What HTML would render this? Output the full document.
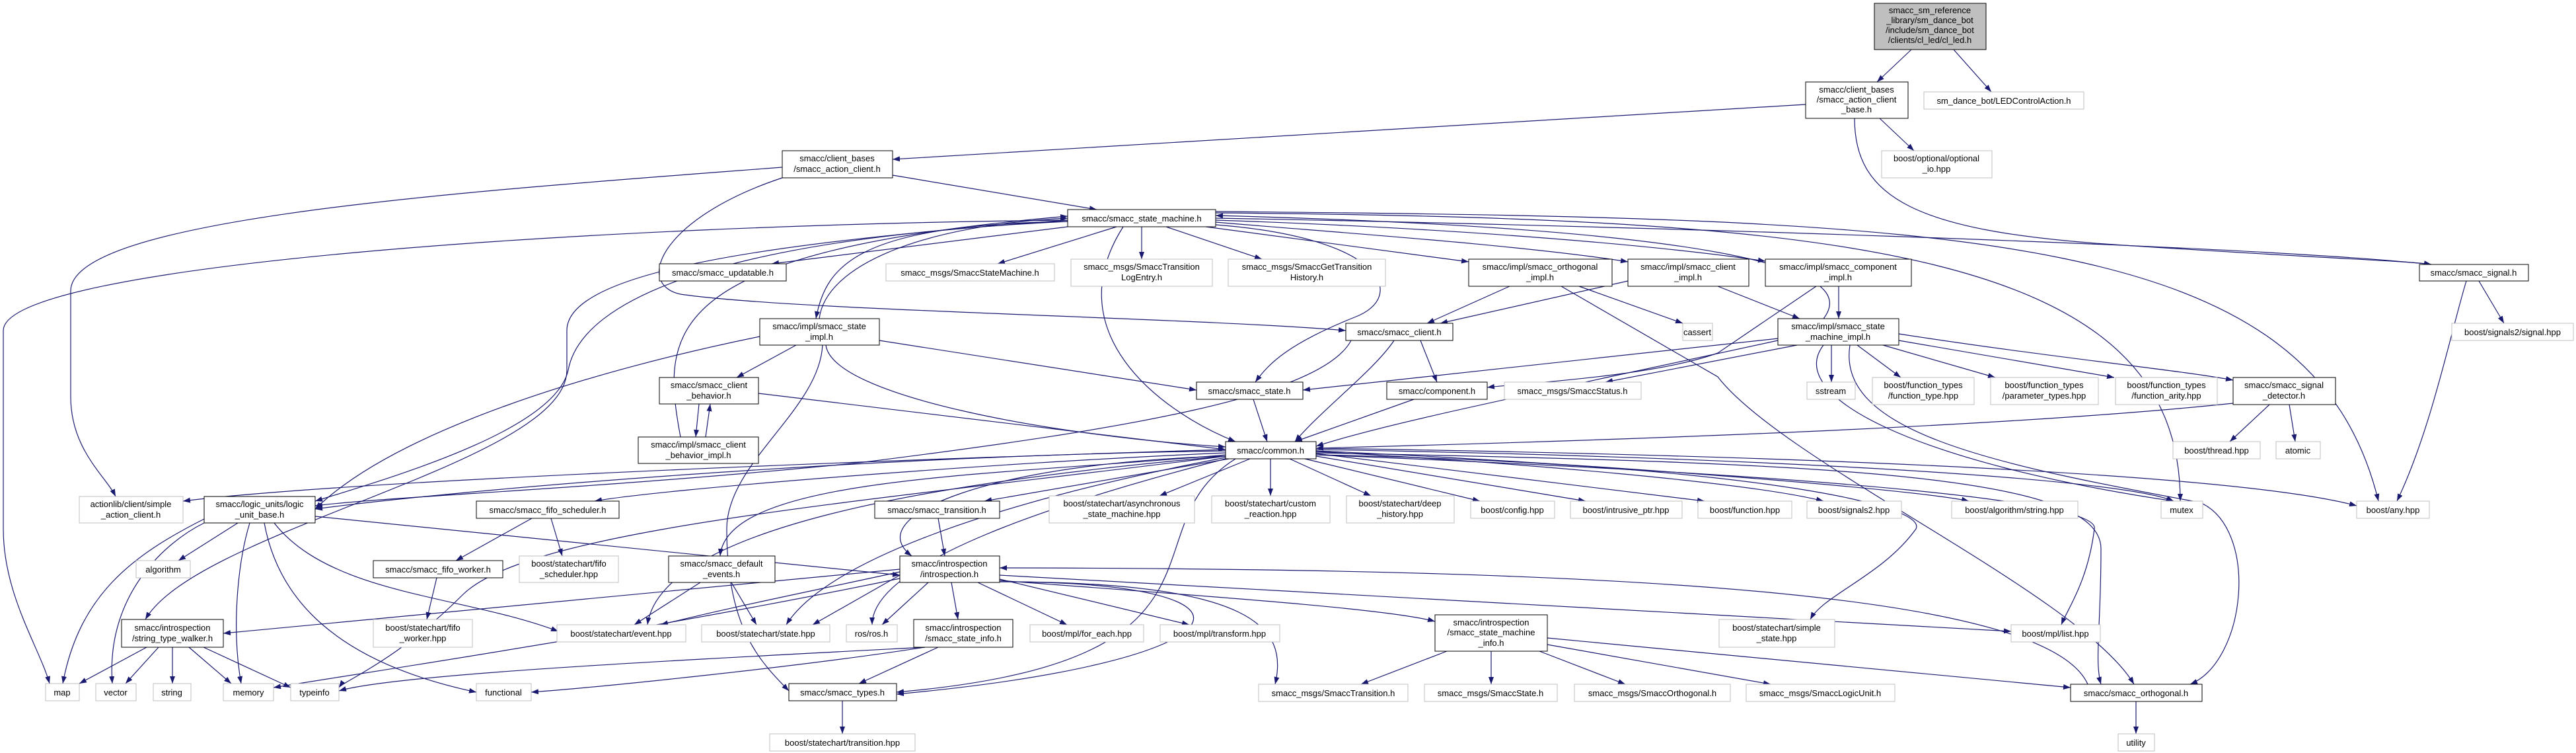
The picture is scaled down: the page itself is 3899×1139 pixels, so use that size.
<!DOCTYPE html>
<html><head><meta charset="utf-8"><style>
html,body{margin:0;padding:0;background:#fff;}
svg{display:block;}
text{font-family:"Liberation Sans",sans-serif;font-size:13px;fill:#000;}
.n{fill:#fff;stroke:#000;stroke-width:1;}
.g{fill:#fff;stroke:#bfbfbf;stroke-width:1;}
.e{fill:none;stroke:#191970;stroke-width:1.2;}
</style></head><body>
<svg width="3899" height="1139" viewBox="0 0 3899 1139" xmlns="http://www.w3.org/2000/svg">
<defs><marker id="a" markerUnits="userSpaceOnUse" markerWidth="11" markerHeight="8" viewBox="0 0 11 8" refX="11" refY="4" orient="auto"><path d="M0,0 L11,4 L0,8 z" fill="#191970"/></marker></defs>
<g marker-end="url(#a)">
<path class="e" d="M2893,75 L2841,124"/>
<path class="e" d="M2957,75 L3014,139"/>
<path class="e" d="M2845,179 L2897,228"/>
<path class="e" d="M2733,158 L1351,241"/>
<path class="e" d="M2807,179 C2807,300 2900,350 3200,370 S3650,395 3680,400"/>
<path class="e" d="M1351,265 L1660,317"/>
<path class="e" d="M1184,253 C700,290 107,330 107,440 L107,600 C107,680 160,720 175,751"/>
<path class="e" d="M1184,269 C1000,330 960,430 1030,445 C1200,470 1800,480 2037,500"/>
<path class="e" d="M1690,343 L1510,399"/>
<path class="e" d="M1728,343 L1728,392"/>
<path class="e" d="M1765,343 L1910,392"/>
<path class="e" d="M1825,343 L2223,396"/>
<path class="e" d="M1840,336 C2000,350 2300,370 2464,396"/>
<path class="e" d="M1840,333 C2200,345 2500,370 2672,395"/>
<path class="e" d="M1840,330 C2400,340 3400,370 3680,400"/>
<path class="e" d="M1616,343 L1168,399"/>
<path class="e" d="M1616,335 C1300,340 1250,400 1235,482"/>
<path class="e" d="M1616,335 C1100,360 880,450 860,560 C840,650 600,720 477,758"/>
<path class="e" d="M1616,333 C900,340 5,400 5,500 L5,800 C5,900 60,980 75,1034"/>
<path class="e" d="M1700,343 C1600,500 1750,620 1870,668"/>
<path class="e" d="M1840,340 C2100,360 2130,450 2050,480 C1950,520 1920,550 1900,578"/>
<path class="e" d="M1840,320 C3000,330 3500,350 3600,758"/>
<path class="e" d="M1840,322 C2800,330 3300,380 3300,758"/>
<path class="e" d="M1240,482 C1250,400 1400,340 1616,330"/>
<path class="e" d="M1030,661 C1000,500 1000,380 1616,327"/>
<path class="e" d="M2760,482 C2800,430 2750,350 1840,326"/>
<path class="e" d="M1205,522 L1115,571"/>
<path class="e" d="M1331,515 L1811,590"/>
<path class="e" d="M1150,509 C900,560 600,650 477,770"/>
<path class="e" d="M1616,333 C1100,370 858,420 858,500 L858,560 C858,700 300,800 220,937"/>
<path class="e" d="M1250,522 C1260,600 1600,660 1855,676"/>
<path class="e" d="M1245,522 C1240,620 1100,700 1100,800 C1100,950 1150,1000 1194,1045"/>
<path class="e" d="M1058,611 L1053,661"/>
<path class="e" d="M1148,595 L1855,680"/>
<path class="e" d="M1068,661 L1075,611"/>
<path class="e" d="M2150,515 L2175,578"/>
<path class="e" d="M2110,515 C2080,560 2000,620 1960,668"/>
<path class="e" d="M2045,515 C2000,600 1700,650 1300,700 C900,740 600,750 477,765"/>
<path class="e" d="M2285,433 L2160,489"/>
<path class="e" d="M2390,433 L2547,489"/>
<path class="e" d="M2363,433 L2600,570 C2700,700 3150,900 3230,1035"/>
<path class="e" d="M2464,425 L2180,489"/>
<path class="e" d="M2600,433 L2724,482"/>
<path class="e" d="M2783,433 L2783,482"/>
<path class="e" d="M2749,433 L2600,534 C2500,570 2300,580 2251,586"/>
<path class="e" d="M2691,512 L1972,590"/>
<path class="e" d="M2720,522 L2430,578"/>
<path class="e" d="M2772,522 L2772,578"/>
<path class="e" d="M2811,522 L2877,571"/>
<path class="e" d="M2850,522 L3020,571"/>
<path class="e" d="M2874,515 L3200,571"/>
<path class="e" d="M2874,505 C3100,540 3300,560 3380,575"/>
<path class="e" d="M2691,515 C2300,600 2100,640 1992,675"/>
<path class="e" d="M2800,522 C2780,650 3000,700 3330,760 C3420,800 3400,1000 3315,1035"/>
<path class="e" d="M2760,522 C2700,600 2900,700 3290,758"/>
<path class="e" d="M3435,612 L3375,668"/>
<path class="e" d="M3465,612 L3474,668"/>
<path class="e" d="M3380,610 C3000,650 2300,670 1992,678"/>
<path class="e" d="M3752,425 L3790,489"/>
<path class="e" d="M3733,425 C3710,500 3680,650 3628,758"/>
<path class="e" d="M1892,694 L1755,750"/>
<path class="e" d="M1923,694 L1923,750"/>
<path class="e" d="M1952,694 L2075,750"/>
<path class="e" d="M1975,694 L2240,758"/>
<path class="e" d="M1992,690 L2400,758"/>
<path class="e" d="M1992,686 L2580,758"/>
<path class="e" d="M1992,683 C2300,700 2650,730 2760,758"/>
<path class="e" d="M1992,682 C2400,700 2900,740 2980,758"/>
<path class="e" d="M1992,680 C2600,690 3200,720 3290,758"/>
<path class="e" d="M1992,678 C2800,690 3400,720 3567,765"/>
<path class="e" d="M1860,694 L1490,758"/>
<path class="e" d="M1855,690 C1500,700 1300,780 1380,841"/>
<path class="e" d="M1855,685 C1500,700 1000,740 900,758"/>
<path class="e" d="M1855,688 C1500,720 1100,720 1090,841"/>
<path class="e" d="M1855,690 C1400,730 1000,800 980,945"/>
<path class="e" d="M1855,692 C1500,760 1250,850 1190,945"/>
<path class="e" d="M1855,694 C1600,760 1320,850 1320,945"/>
<path class="e" d="M1870,694 C1700,800 1900,1000 1357,1047"/>
<path class="e" d="M1855,682 C1300,690 700,740 477,770"/>
<path class="e" d="M1855,680 C1200,700 500,730 277,758"/>
<path class="e" d="M1855,690 C1300,760 800,800 700,900 C600,1000 520,1030 513,1040"/>
<path class="e" d="M1400,979 C1200,1010 900,1040 804,1047"/>
<path class="e" d="M1992,688 C2600,700 2920,760 2900,800 C2850,870 2760,900 2740,937"/>
<path class="e" d="M1992,688 C2800,720 3180,760 3170,800 C3160,880 3130,920 3120,945"/>
<path class="e" d="M1992,685 C2800,700 3180,720 3180,830 C3180,950 3170,1000 3180,1035"/>
<path class="e" d="M1405,881 L1335,945"/>
<path class="e" d="M1440,881 L1450,937"/>
<path class="e" d="M1480,881 L1615,945"/>
<path class="e" d="M1513,876 L1800,945"/>
<path class="e" d="M1513,878 C1800,900 2100,920 2172,940"/>
<path class="e" d="M1513,870 L3044,955"/>
<path class="e" d="M1362,870 L1230,945"/>
<path class="e" d="M1362,865 C1200,900 1100,920 1000,945"/>
<path class="e" d="M1513,880 C1900,880 1950,950 1930,1035"/>
<path class="e" d="M1513,880 C1950,880 1900,1000 1357,1050"/>
<path class="e" d="M1362,861 L338,958"/>
<path class="e" d="M1362,875 C1000,950 600,1010 414,1040"/>
<path class="e" d="M3160,1035 C3100,900 2500,860 1513,859"/>
<path class="e" d="M2190,985 L2060,1035"/>
<path class="e" d="M2257,985 L2257,1035"/>
<path class="e" d="M2330,985 L2460,1035"/>
<path class="e" d="M2342,975 L2680,1035"/>
<path class="e" d="M2342,965 L3134,1040"/>
<path class="e" d="M1420,979 L1300,1034"/>
<path class="e" d="M1400,979 C1000,1000 600,1020 513,1045"/>
<path class="e" d="M1420,784 L1430,841"/>
<path class="e" d="M360,791 L270,848"/>
<path class="e" d="M309,785 C200,840 120,900 95,1034"/>
<path class="e" d="M309,791 C250,820 160,900 170,1034"/>
<path class="e" d="M378,791 C360,850 350,950 365,1034"/>
<path class="e" d="M400,791 C420,900 500,1000 721,1047"/>
<path class="e" d="M415,791 C500,900 700,900 845,955"/>
<path class="e" d="M477,781 L1362,870"/>
<path class="e" d="M222,979 L120,1034"/>
<path class="e" d="M240,979 L190,1034"/>
<path class="e" d="M261,979 L261,1034"/>
<path class="e" d="M286,979 L350,1034"/>
<path class="e" d="M308,979 L440,1040"/>
<path class="e" d="M805,784 L690,848"/>
<path class="e" d="M834,784 L851,841"/>
<path class="e" d="M661,874 L646,937"/>
<path class="e" d="M1060,881 L960,945"/>
<path class="e" d="M1107,881 L1145,945"/>
<path class="e" d="M1275,1060 L1275,1110"/>
<path class="e" d="M3233,1061 L3233,1110"/>
<path class="e" d="M1897,604 L1918,668"/>
<path class="e" d="M2140,604 L1960,668"/>
</g>
<g text-anchor="middle">
<rect x="2837" y="5" width="169" height="70" fill="#bfbfbf" stroke="#000"/>
<text x="2921" y="20">smacc_sm_reference</text><text x="2921" y="35">_library/sm_dance_bot</text><text x="2921" y="50">/include/sm_dance_bot</text><text x="2921" y="65">/clients/cl_led/cl_led.h</text>
<rect class="n" x="2733" y="124" width="155" height="55"/><text x="2810" y="140">smacc/client_bases</text><text x="2810" y="155">/smacc_action_client</text><text x="2810" y="170">_base.h</text>
<rect class="g" x="2912" y="139" width="242" height="26"/><text x="3033" y="157">sm_dance_bot/LEDControlAction.h</text>
<rect class="g" x="2848" y="228" width="167" height="41"/><text x="2931" y="244">boost/optional/optional</text><text x="2931" y="260">_io.hpp</text>
<rect class="n" x="1184" y="228" width="167" height="41"/><text x="1267" y="244">smacc/client_bases</text><text x="1267" y="260">/smacc_action_client.h</text>
<rect class="n" x="1616" y="317" width="224" height="26"/><text x="1728" y="335">smacc/smacc_state_machine.h</text>
<rect class="n" x="3662" y="400" width="165" height="25"/><text x="3744" y="417">smacc/smacc_signal.h</text>
<rect class="g" x="1341" y="399" width="255" height="26"/><text x="1468" y="417">smacc_msgs/SmaccStateMachine.h</text>
<rect class="g" x="1621" y="392" width="214" height="41"/><text x="1728" y="408">smacc_msgs/SmaccTransition</text><text x="1728" y="424">LogEntry.h</text>
<rect class="g" x="1859" y="392" width="238" height="41"/><text x="1978" y="408">smacc_msgs/SmaccGetTransition</text><text x="1978" y="424">History.h</text>
<rect class="n" x="2223" y="392" width="217" height="41"/><text x="2331" y="408">smacc/impl/smacc_orthogonal</text><text x="2331" y="424">_impl.h</text>
<rect class="n" x="2464" y="392" width="183" height="41"/><text x="2555" y="408">smacc/impl/smacc_client</text><text x="2555" y="424">_impl.h</text>
<rect class="n" x="2672" y="392" width="221" height="41"/><text x="2782" y="408">smacc/impl/smacc_component</text><text x="2782" y="424">_impl.h</text>
<rect class="n" x="2691" y="482" width="183" height="40"/><text x="2782" y="498">smacc/impl/smacc_state</text><text x="2782" y="514">_machine_impl.h</text>
<rect class="g" x="3711" y="489" width="184" height="26"/><text x="3803" y="507">boost/signals2/signal.hpp</text>
<rect class="n" x="998" y="399" width="192" height="26"/><text x="1094" y="417">smacc/smacc_updatable.h</text>
<rect class="n" x="1150" y="482" width="181" height="40"/><text x="1240" y="498">smacc/impl/smacc_state</text><text x="1240" y="514">_impl.h</text>
<rect class="n" x="2037" y="489" width="162" height="26"/><text x="2118" y="507">smacc/smacc_client.h</text>
<rect class="g" x="2547" y="489" width="45" height="26"/><text x="2569" y="507">cassert</text>
<rect class="n" x="998" y="571" width="150" height="40"/><text x="1073" y="587">smacc/smacc_client</text><text x="1073" y="603">_behavior.h</text>
<rect class="n" x="966" y="661" width="182" height="40"/><text x="1057" y="677">smacc/impl/smacc_client</text><text x="1057" y="693">_behavior_impl.h</text>
<rect class="n" x="1811" y="578" width="161" height="26"/><text x="1891" y="596">smacc/smacc_state.h</text>
<rect class="n" x="2099" y="578" width="152" height="26"/><text x="2175" y="596">smacc/component.h</text>
<rect class="g" x="2277" y="578" width="207" height="26"/><text x="2380" y="596">smacc_msgs/SmaccStatus.h</text>
<rect class="g" x="2735" y="578" width="73" height="26"/><text x="2771" y="596">sstream</text>
<rect class="g" x="2834" y="571" width="154" height="41"/><text x="2911" y="587">boost/function_types</text><text x="2911" y="603">/function_type.hpp</text>
<rect class="g" x="3013" y="571" width="163" height="41"/><text x="3094" y="587">boost/function_types</text><text x="3094" y="603">/parameter_types.hpp</text>
<rect class="g" x="3202" y="571" width="154" height="41"/><text x="3279" y="587">boost/function_types</text><text x="3279" y="603">/function_arity.hpp</text>
<rect class="n" x="3380" y="571" width="155" height="41"/><text x="3457" y="587">smacc/smacc_signal</text><text x="3457" y="603">_detector.h</text>
<rect class="n" x="1855" y="668" width="137" height="26"/><text x="1923" y="686">smacc/common.h</text>
<rect class="g" x="3289" y="668" width="132" height="26"/><text x="3355" y="686">boost/thread.hpp</text>
<rect class="g" x="3445" y="668" width="67" height="26"/><text x="3478" y="686">atomic</text>
<rect class="g" x="120" y="751" width="157" height="40"/><text x="198" y="767">actionlib/client/simple</text><text x="198" y="783">_action_client.h</text>
<rect class="n" x="309" y="751" width="168" height="40"/><text x="393" y="767">smacc/logic_units/logic</text><text x="393" y="783">_unit_base.h</text>
<rect class="n" x="721" y="758" width="216" height="26"/><text x="829" y="776">smacc/smacc_fifo_scheduler.h</text>
<rect class="n" x="1324" y="758" width="189" height="26"/><text x="1418" y="776">smacc/smacc_transition.h</text>
<rect class="g" x="1588" y="750" width="220" height="41"/><text x="1698" y="766">boost/statechart/asynchronous</text><text x="1698" y="782">_state_machine.hpp</text>
<rect class="g" x="1834" y="750" width="179" height="41"/><text x="1923" y="766">boost/statechart/custom</text><text x="1923" y="782">_reaction.hpp</text>
<rect class="g" x="2038" y="750" width="163" height="41"/><text x="2119" y="766">boost/statechart/deep</text><text x="2119" y="782">_history.hpp</text>
<rect class="g" x="2226" y="758" width="127" height="26"/><text x="2289" y="776">boost/config.hpp</text>
<rect class="g" x="2377" y="758" width="169" height="26"/><text x="2461" y="776">boost/intrusive_ptr.hpp</text>
<rect class="g" x="2570" y="758" width="142" height="26"/><text x="2641" y="776">boost/function.hpp</text>
<rect class="g" x="2735" y="758" width="143" height="26"/><text x="2806" y="776">boost/signals2.hpp</text>
<rect class="g" x="2954" y="758" width="191" height="26"/><text x="3049" y="776">boost/algorithm/string.hpp</text>
<rect class="g" x="3271" y="758" width="63" height="26"/><text x="3302" y="776">mutex</text>
<rect class="g" x="3567" y="758" width="110" height="26"/><text x="3622" y="776">boost/any.hpp</text>
<rect class="g" x="206" y="848" width="82" height="26"/><text x="247" y="866">algorithm</text>
<rect class="n" x="565" y="848" width="196" height="26"/><text x="663" y="866">smacc/smacc_fifo_worker.h</text>
<rect class="g" x="786" y="841" width="150" height="40"/><text x="861" y="857">boost/statechart/fifo</text><text x="861" y="873">_scheduler.hpp</text>
<rect class="n" x="1012" y="841" width="161" height="40"/><text x="1092" y="857">smacc/smacc_default</text><text x="1092" y="873">_events.h</text>
<rect class="n" x="1362" y="841" width="151" height="40"/><text x="1437" y="857">smacc/introspection</text><text x="1437" y="873">/introspection.h</text>
<rect class="n" x="184" y="937" width="154" height="42"/><text x="261" y="954">smacc/introspection</text><text x="261" y="970">/string_type_walker.h</text>
<rect class="g" x="565" y="937" width="150" height="42"/><text x="640" y="954">boost/statechart/fifo</text><text x="640" y="970">_worker.hpp</text>
<rect class="g" x="843" y="945" width="195" height="26"/><text x="940" y="963">boost/statechart/event.hpp</text>
<rect class="g" x="1062" y="945" width="194" height="26"/><text x="1159" y="963">boost/statechart/state.hpp</text>
<rect class="g" x="1281" y="945" width="77" height="26"/><text x="1319" y="963">ros/ros.h</text>
<rect class="n" x="1383" y="937" width="150" height="42"/><text x="1458" y="954">smacc/introspection</text><text x="1458" y="970">/smacc_state_info.h</text>
<rect class="g" x="1559" y="945" width="172" height="26"/><text x="1645" y="963">boost/mpl/for_each.hpp</text>
<rect class="g" x="1756" y="945" width="181" height="26"/><text x="1846" y="963">boost/mpl/transform.hpp</text>
<rect class="n" x="2172" y="930" width="170" height="55"/><text x="2257" y="946">smacc/introspection</text><text x="2257" y="961">/smacc_state_machine</text><text x="2257" y="977">_info.h</text>
<rect class="g" x="2602" y="937" width="175" height="42"/><text x="2689" y="954">boost/statechart/simple</text><text x="2689" y="970">_state.hpp</text>
<rect class="g" x="3044" y="945" width="135" height="26"/><text x="3111" y="963">boost/mpl/list.hpp</text>
<rect class="g" x="69" y="1034" width="51" height="26"/><text x="94" y="1052">map</text>
<rect class="g" x="145" y="1034" width="61" height="26"/><text x="175" y="1052">vector</text>
<rect class="g" x="232" y="1034" width="57" height="26"/><text x="260" y="1052">string</text>
<rect class="g" x="338" y="1034" width="76" height="26"/><text x="376" y="1052">memory</text>
<rect class="g" x="440" y="1034" width="73" height="26"/><text x="476" y="1052">typeinfo</text>
<rect class="g" x="721" y="1034" width="83" height="26"/><text x="762" y="1052">functional</text>
<rect class="n" x="1194" y="1034" width="163" height="26"/><text x="1275" y="1052">smacc/smacc_types.h</text>
<rect class="g" x="1905" y="1035" width="226" height="26"/><text x="2018" y="1053">smacc_msgs/SmaccTransition.h</text>
<rect class="g" x="2156" y="1035" width="201" height="26"/><text x="2256" y="1053">smacc_msgs/SmaccState.h</text>
<rect class="g" x="2383" y="1035" width="236" height="26"/><text x="2501" y="1053">smacc_msgs/SmaccOrthogonal.h</text>
<rect class="g" x="2643" y="1035" width="225" height="26"/><text x="2755" y="1053">smacc_msgs/SmaccLogicUnit.h</text>
<rect class="n" x="3134" y="1035" width="199" height="26"/><text x="3233" y="1053">smacc/smacc_orthogonal.h</text>
<rect class="g" x="1165" y="1110" width="220" height="26"/><text x="1275" y="1128">boost/statechart/transition.hpp</text>
<rect class="g" x="3206" y="1110" width="55" height="26"/><text x="3233" y="1128">utility</text>
</g>
</svg>
</body></html>
